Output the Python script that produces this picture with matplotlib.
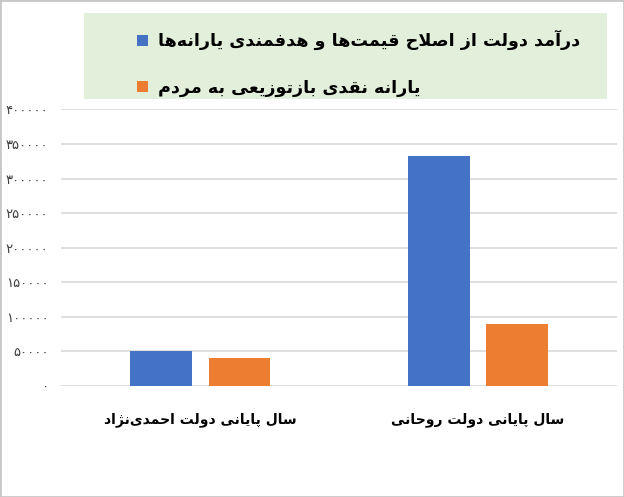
import numpy as np
import matplotlib
matplotlib.use("Agg")
import matplotlib.pyplot as plt
from matplotlib.patches import Rectangle

# data (categories left -> right as drawn)
categories = ["سال پایانی دولت احمدی‌نژاد", "سال پایانی دولت روحانی"]
series_names = ["درآمد دولت از اصلاح قیمت‌ها و هدفمندی یارانه‌ها",
                "یارانه نقدی بازتوزیعی به مردم"]
revenue = [50000, 333000]
cash_subsidy = [40000, 90000]
yticks = [0, 50000, 100000, 150000, 200000, 250000, 300000, 350000, 400000]

# --- tiny arabic/persian shaper (matplotlib does no shaping / bidi) ---
FORMS = {
    'ا': ('\uFE8D', '\uFE8E', None, None),
    'آ': ('\uFE81', '\uFE82', None, None),
    'ب': ('\uFE8F', '\uFE90', '\uFE91', '\uFE92'),
    'پ': ('\uFB56', '\uFB57', '\uFB58', '\uFB59'),
    'ت': ('\uFE95', '\uFE96', '\uFE97', '\uFE98'),
    'ح': ('\uFEA1', '\uFEA2', '\uFEA3', '\uFEA4'),
    'د': ('\uFEA9', '\uFEAA', None, None),
    'ر': ('\uFEAD', '\uFEAE', None, None),
    'ز': ('\uFEAF', '\uFEB0', None, None),
    'ژ': ('\uFB8A', '\uFB8B', None, None),
    'س': ('\uFEB1', '\uFEB2', '\uFEB3', '\uFEB4'),
    'ص': ('\uFEB9', '\uFEBA', '\uFEBB', '\uFEBC'),
    'ع': ('\uFEC9', '\uFECA', '\uFECB', '\uFECC'),
    'ف': ('\uFED1', '\uFED2', '\uFED3', '\uFED4'),
    'ق': ('\uFED5', '\uFED6', '\uFED7', '\uFED8'),
    'ل': ('\uFEDD', '\uFEDE', '\uFEDF', '\uFEE0'),
    'م': ('\uFEE1', '\uFEE2', '\uFEE3', '\uFEE4'),
    'ن': ('\uFEE5', '\uFEE6', '\uFEE7', '\uFEE8'),
    'ه': ('\uFEE9', '\uFEEA', '\uFEEB', '\uFEEC'),
    'و': ('\uFEED', '\uFEEE', None, None),
    'ی': ('\uFBFC', '\uFBFD', '\uFBFE', '\uFBFF'),
    'LA': ('\uFEFB', '\uFEFC', None, None),
    'LAA': ('\uFEF5', '\uFEF6', None, None),
}


def shape(s):
    toks = []
    i = 0
    while i < len(s):
        if s[i] == 'ل' and i + 1 < len(s) and s[i+1] in 'اآ':
            toks.append('LA' if s[i+1] == 'ا' else 'LAA')
            i += 2
        else:
            toks.append(s[i])
            i += 1

    def joins_left(t):
        return t in FORMS and FORMS[t][2] is not None

    out = []
    for k, t in enumerate(toks):
        if t not in FORMS:
            if t != '\u200c':
                out.append(t)
            continue
        prev = toks[k-1] if k > 0 else None
        nxt = toks[k+1] if k + 1 < len(toks) else None
        cp = prev is not None and joins_left(prev)
        cn = joins_left(t) and nxt in FORMS
        if cp and cn:
            out.append(FORMS[t][3])
        elif cp:
            out.append(FORMS[t][1])
        elif cn:
            out.append(FORMS[t][2])
        else:
            out.append(FORMS[t][0])
    return ''.join(out[::-1])


def fa_num(v):
    return str(int(v)).translate(str.maketrans('0123456789', '۰۱۲۳۴۵۶۷۸۹'))


blue = '#4472C4'
orange = '#ED7D31'

fig = plt.figure(figsize=(6.24, 4.97), dpi=100)
ax = fig.add_axes([0.0978, 0.2233, 0.891, 0.5567])

x = np.arange(len(categories))
w = 0.223
b1 = ax.bar(x - 0.142, revenue, w, color=blue, label=shape(series_names[0]))
b2 = ax.bar(x + 0.142, cash_subsidy, w, color=orange, label=shape(series_names[1]))

ax.set_xlim(-0.5, 1.5)
ax.set_ylim(0, 400000)
ax.set_yticks(yticks)
ax.set_yticklabels([fa_num(v) for v in yticks], fontsize=9.5, color='#404040')
ax.set_xticks(x)
ax.set_xticklabels([shape(c) for c in categories], fontsize=10, fontweight='bold')
ax.tick_params(axis='y', length=0, pad=9)
ax.tick_params(axis='x', length=0, pad=19)
for sp in ax.spines.values():
    sp.set_visible(False)
ax.yaxis.grid(True, color='#d9d9d9', lw=1.2)
ax.set_axisbelow(True)

# legend box
fig.patches.append(Rectangle((84/624, 1-99/497), (607-84)/624, (99-13)/497,
                             transform=fig.transFigure, facecolor='#E2EFDA',
                             edgecolor='none', zorder=0))
leg = fig.legend(handles=[b1, b2], loc='upper left',
                 bbox_to_anchor=(125/624, 1-18/497), frameon=False,
                 prop={'size': 12.6, 'weight': 'bold'},
                 handlelength=0.63, handleheight=0.63, handletextpad=0.55,
                 labelspacing=1.6, borderpad=0.2)

fig.patches.append(Rectangle((0, 0), 1, 1, transform=fig.transFigure, fill=False,
                             edgecolor='#c8c8c8', lw=2))

fig.savefig('out.png', dpi=100)
